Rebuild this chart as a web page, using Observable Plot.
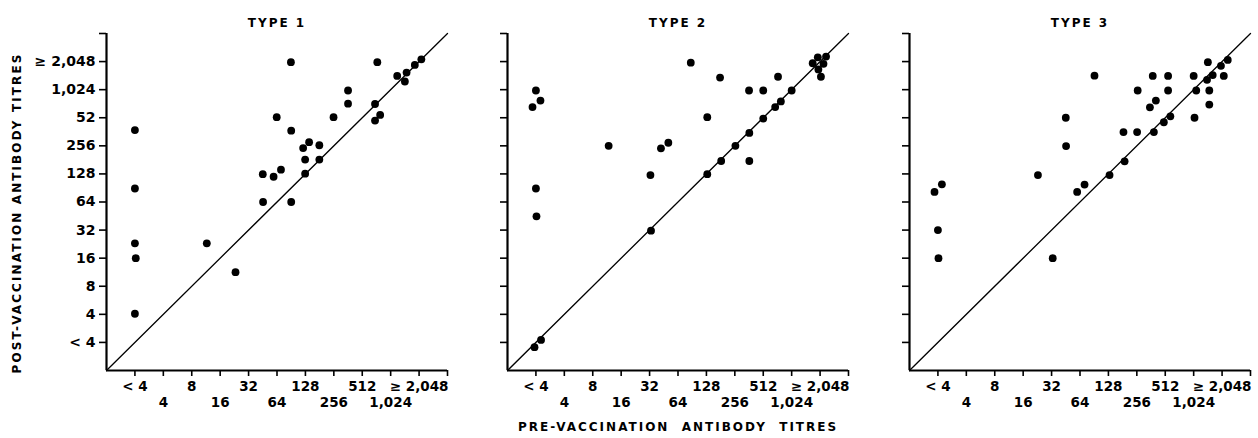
<!DOCTYPE html>
<html><head><meta charset="utf-8">
<script src="https://cdn.jsdelivr.net/npm/d3@7"></script>
<script src="https://cdn.jsdelivr.net/npm/@observablehq/plot@0.6"></script>
<style>
body{margin:0;background:#fff}
#chart{position:relative;width:1258px;height:438px;background:#fff}
.panel{position:absolute;top:0}
svg text{font-family:"DejaVu Sans",sans-serif;font-weight:bold}
g[aria-label="text"] text{letter-spacing:2px}
</style></head><body><div id="chart"></div>
<script>
// Titre dilution steps: 1 = "<4", 2 = 4, 3 = 8, ... 11 = ">=2,048"
const stepDomain = [0, 12];
const xTickLabels = ["< 4","4","8","16","32","64","128","256","512","1,024","≥ 2,048"];
const yTickLabels = ["< 4","4","8","16","32","64","128","256","52","1,024","≥ 2,048"];
const xRow1 = [1,3,5,7,9,11];
const xRow2 = [2,4,6,8,10,12];
const yTickSteps = [1,2,3,4,5,6,7,8,9,10,11,12];
const panelTitles = ["TYPE 1","TYPE 2","TYPE 3"];
const xTitle = "PRE-VACCINATION  ANTIBODY  TITRES";
const yTitle = "POST-VACCINATION ANTIBODY TITRES";

const type1Pre  = [1,1,1,1.03,1,3.53,4.54,5.5,5.51,5.88,5.99,6.14,6.49,6.5,6.5,6.92,6.99,6.99,7.13,7.49,7.49,7.99,8.5,8.5,9.45,9.45,9.63,9.53,10.23,10.5,10.56,10.85,11.08];
const type1Post = [8.56,6.48,4.53,4.0,2.02,4.53,3.5,6.99,6.0,6.9,9.02,7.15,10.98,8.54,6.0,7.92,7.51,7.01,8.13,8.02,7.51,9.02,9.97,9.5,9.49,8.9,9.1,10.98,10.49,10.29,10.61,10.88,11.08];

const type2Pre  = [1,0.88,1.16,1.0,1.02,0.95,1.18,3.56,5.03,5.05,5.4,5.66,6.45,7.03,7.03,7.48,7.52,8.02,8.5,8.51,8.51,9.0,9.0,9.42,9.52,9.62,10.0,10.74,10.92,11.12,11.21,11.03,10.94];
const type2Post = [9.97,9.38,9.61,6.48,5.49,0.83,1.09,8.0,6.96,4.98,7.91,8.11,10.96,9.02,6.99,10.43,7.46,8.0,9.97,8.46,7.46,9.97,8.97,9.38,10.46,9.58,9.97,10.94,11.15,10.92,11.18,10.46,10.72];

const type3Pre  = [0.88,1.14,1.0,1.02,4.52,5.04,5.5,5.51,5.9,6.16,6.51,7.04,7.53,7.57,8.03,8.01,8.46,8.67,8.56,8.6,8.95,9.1,9.1,9.18,10.0,10.09,10.03,10.5,10.47,10.55,10.55,10.67,10.96,11.06,11.2];
const type3Post = [6.36,6.63,5.0,4.0,6.96,4.0,9.0,7.99,6.36,6.62,10.5,6.96,8.49,7.45,9.97,8.49,9.37,9.61,10.49,8.49,8.84,10.49,9.97,9.05,10.49,9.97,9.0,10.98,10.35,9.97,9.47,10.52,10.85,10.49,11.06];

const equality = stepDomain.map(v => ({x: v, y: v}));

function panel({pre, post, title, left, width, marginLeft, marginRight, yLabels, yTitleOn, xTitleOn}) {
  const pts = pre.map((p, i) => ({pre: p, post: post[i]}));
  const fig = Plot.plot({
    width, height: 438,
    marginLeft, marginRight, marginTop: 33, marginBottom: 68,
    style: {background: "white", color: "black", overflow: "visible"},
    x: {domain: stepDomain},
    y: {domain: stepDomain},
    marks: [
      Plot.line(equality, {x: "x", y: "y", stroke: "black", strokeWidth: 1.3}),
      Plot.dot(pts, {x: "pre", y: "post", r: 3.9, fill: "black"}),
      Plot.ruleX([stepDomain[0]], {stroke: "black", strokeWidth: 2.2}),
      Plot.ruleY([stepDomain[0]], {stroke: "black", strokeWidth: 2.2}),
      Plot.axisY(yTickSteps, {tickSize: 7, tickPadding: 4, strokeWidth: 1.6, fontSize: 14, label: null,
        tickFormat: yLabels ? (i => yTickLabels[i - 1] ?? "") : (() => "")}),
      Plot.axisX(xRow1, {tickSize: 6, tickPadding: 5, strokeWidth: 1.6, fontSize: 13.5, label: null,
        tickFormat: i => xTickLabels[i - 1] ?? ""}),
      Plot.axisX(xRow2, {tickSize: 6, tickPadding: 21, strokeWidth: 1.6, fontSize: 13.5, label: null,
        tickFormat: i => xTickLabels[i - 1] ?? ""}),
      Plot.text([title], {frameAnchor: "top", dy: -15, fontSize: 12}),
      yTitleOn ? Plot.text([yTitle], {frameAnchor: "left", textAnchor: "middle", rotate: -90, dx: -89, dy: 11, fontSize: 12}) : null,
      xTitleOn ? Plot.text([xTitle], {frameAnchor: "bottom", textAnchor: "middle", dy: 60, fontSize: 12}) : null
    ]
  });
  fig.querySelectorAll("text").forEach(t => {
    if (t.textContent === yTitle) t.style.letterSpacing = "2.1px";
  });
  const div = document.createElement("div");
  div.className = "panel";
  div.style.left = left + "px";
  div.appendChild(fig);
  document.getElementById("chart").appendChild(div);
}

panel({pre: type1Pre, post: type1Post, title: panelTitles[0], left: 0, width: 452, marginLeft: 106, marginRight: 5, yLabels: true, yTitleOn: true, xTitleOn: false});
panel({pre: type2Pre, post: type2Post, title: panelTitles[1], left: 460, width: 393, marginLeft: 47, marginRight: 5, yLabels: false, yTitleOn: false, xTitleOn: true});
panel({pre: type3Pre, post: type3Post, title: panelTitles[2], left: 860, width: 398, marginLeft: 49, marginRight: 8, yLabels: false, yTitleOn: false, xTitleOn: false});
</script></body></html>
